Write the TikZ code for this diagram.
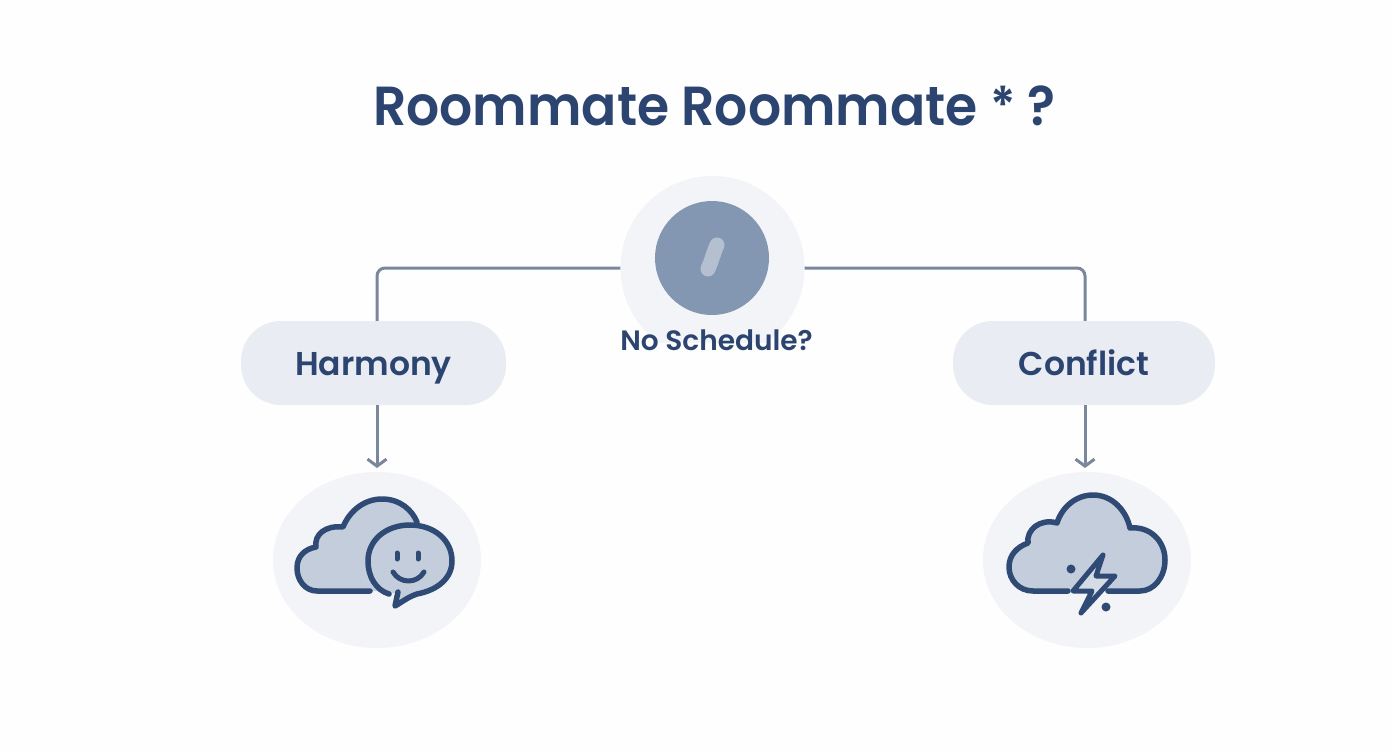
\documentclass[tikz,border=0pt]{standalone}
\usepackage{fontspec}
\setmainfont{Poppins SemiBold}
\newfontfamily\titlefont{Poppins Medium}[FakeBold=0.6]
\usetikzlibrary{arrows.meta,shapes.geometric}
\definecolor{ink}{HTML}{2C4570}
\definecolor{iconline}{HTML}{2F4A75}
\definecolor{iconfill}{HTML}{C3CDDB}
\definecolor{pale}{HTML}{F3F4F7}
\definecolor{pillbox}{HTML}{E9EDF3}
\definecolor{wire}{HTML}{7A879C}
\definecolor{disc}{HTML}{8497B2}
\definecolor{bean}{HTML}{B4BFD0}
\definecolor{paper}{HTML}{FEFEFE}
\tikzset{
  x=1pt,y=-1pt,
  label/.style={text=ink,font=\fontsize{33}{33}\selectfont,inner sep=0pt},
  pillnode/.style={fill=pillbox,rounded corners=40pt,minimum height=84pt,text height=24pt,text depth=0pt,label},
  halo/.style={fill=pale,ellipse,minimum width=208pt,minimum height=176pt,inner sep=0pt},
  wireline/.style={draw=wire,line width=3pt,rounded corners=8pt},
  wirearrow/.style={draw=wire,line width=3pt,-{Straight Barb[length=7pt,width=19pt,line width=3pt]}},
  icon/.style={draw=iconline,line width=5.5pt,line cap=round,line join=round},
  iconthin/.style={draw=iconline,line width=5pt,line cap=round,line join=round}
}
\begin{document}
\begin{tikzpicture}
\useasboundingbox (0,0) rectangle (1392,752);
\fill[paper] (0,0) rectangle (1392,752);
% title
\node[text=ink,font=\fontsize{55}{55}\selectfont,inner sep=0pt,anchor=base] (title) at (714.5,125) {\scalebox{0.945}[1]{Roommate Roommate \raisebox{1pt}{\fontsize{52}{52}\selectfont *} ?}};
% centre halo
\begin{scope}
\clip (600,170) rectangle (830,342);
\node[fill=pale,circle,minimum size=184pt,inner sep=0pt] (ctr) at (712.5,268) {};
\end{scope}
\node[fill=disc,circle,minimum size=114pt,inner sep=0pt] (disc) at (712,258) {};
\draw[draw=bean,line width=15pt,line cap=round] (717,245) .. controls (713,254) and (712,260) .. (708,269);
\node[text=ink,font=\fontsize{28}{28}\selectfont,inner sep=0pt] (question) at (716.5,340) {No Schedule?};
% boxes
\coordinate (hl) at (377,321);
\coordinate (cl) at (1085,321);
\draw[wireline] (ctr.west) -- (hl |- ctr.west) -- (hl);
\draw[wireline] (ctr.east) -- (cl |- ctr.east) -- (cl);
\node[pillnode,minimum width=265pt] (harm) at (373.5,363) {Harmony};
\node[pillnode,minimum width=262pt] (conf) at (1084,363) {Conflict};
% halos
\node[halo] (hh) at (377,560) {};
\node[halo] (hc) at (1087,560) {};
\coordinate (hh0) at (377,405);
\coordinate (hh1) at (377,468);
\coordinate (cc0) at (1085,405);
\coordinate (cc1) at (1085,468);
\draw[wirearrow] (hh0) -- (hh1);
\draw[wirearrow] (cc0) -- (cc1);
% left icon: cloud
\fill[iconfill] (370,591) -- (317,591) .. controls (305,591) and (297,580) .. (297,568)
  .. controls (297,556) and (305,549) .. (316,547)
  .. controls (314,535) and (325,525) .. (343,527)
  .. controls (350,510) and (365,499) .. (382,499)
  .. controls (400,499) and (412,510) .. (417,522) -- (400,560) -- (390,591) -- cycle;
\draw[icon] (370,591) -- (317,591) .. controls (305,591) and (297,580) .. (297,568)
  .. controls (297,556) and (305,549) .. (316,547)
  .. controls (314,535) and (325,525) .. (343,527)
  .. controls (350,510) and (365,499) .. (382,499)
  .. controls (400,499) and (412,510) .. (417,522);
% left icon: bubble
\fill[iconfill] (389,594) .. controls (376,590) and (368,577) .. (368,561)
  .. controls (368,540) and (386,525) .. (410,525)
  .. controls (434,525) and (452,540) .. (452,561)
  .. controls (452,578) and (438,590) .. (417,594)
  .. controls (408,597) and (402,602) .. (395,606) -- (398,592) -- cycle;
\draw[icon] (389,594) .. controls (376,590) and (368,577) .. (368,561)
  .. controls (368,540) and (386,525) .. (410,525)
  .. controls (434,525) and (452,540) .. (452,561)
  .. controls (452,578) and (438,590) .. (417,594)
  .. controls (408,597) and (402,602) .. (395,606) -- (398,592);
\draw[iconthin] (397,553) -- (397,559);
\draw[iconthin] (418,553) -- (418,559);
\draw[iconthin] (393,572) .. controls (400,584) and (417,584) .. (424,572);
% right icon: cloud
\fill[iconfill] (1068,591) -- (1033,591) .. controls (1019,591) and (1009,580) .. (1009,567)
  .. controls (1009,555) and (1017,547) .. (1028,543)
  .. controls (1026,530) and (1040,518) .. (1057,523)
  .. controls (1062,507) and (1076,495) .. (1093,495)
  .. controls (1112,495) and (1126,510) .. (1130,528)
  .. controls (1150,526) and (1165,541) .. (1165,560)
  .. controls (1165,577) and (1154,591) .. (1140,591) -- cycle;
\draw[icon] (1068,591) -- (1033,591) .. controls (1019,591) and (1009,580) .. (1009,567)
  .. controls (1009,555) and (1017,547) .. (1028,543)
  .. controls (1026,530) and (1040,518) .. (1057,523)
  .. controls (1062,507) and (1076,495) .. (1093,495)
  .. controls (1112,495) and (1126,510) .. (1130,528)
  .. controls (1150,526) and (1165,541) .. (1165,560)
  .. controls (1165,577) and (1154,591) .. (1140,591) -- (1108,591);
\draw[iconthin,fill=iconfill!70!white] (1103,555) -- (1073,591) -- (1092,591) -- (1081,613) -- (1115,576) -- (1096,576) -- cycle;
\fill[iconline] (1071,569) circle[radius=4.5pt];
\fill[iconline] (1106,607) circle[radius=4.5pt];
\end{tikzpicture}
\end{document}
